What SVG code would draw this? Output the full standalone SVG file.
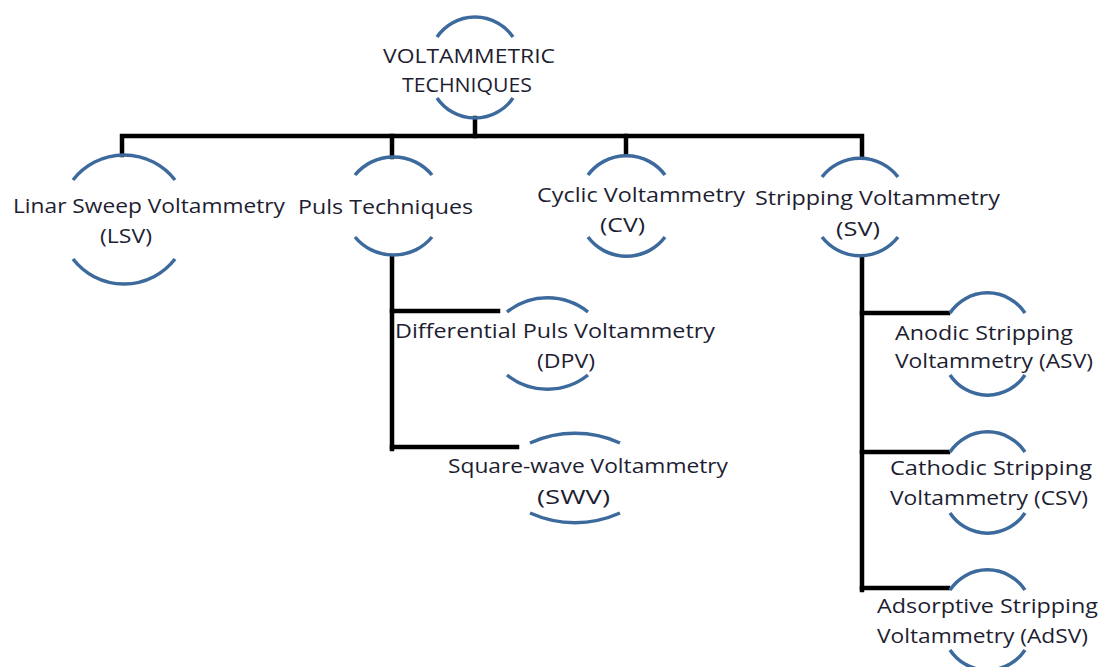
<svg xmlns="http://www.w3.org/2000/svg" width="1102" height="667" viewBox="0 0 1102 667">
<style>
.bg{fill:#ffffff}
.arc{fill:none;stroke:#3d6a9c;stroke-width:3.5;stroke-linecap:butt}
.con{fill:none;stroke:#000000;stroke-width:4.5;stroke-linejoin:miter;stroke-linecap:square}
.t{font-family:"Open Sans","Liberation Sans",sans-serif;font-size:20px;fill:#1e1e32}
</style>
<rect class="bg" x="0" y="0" width="1102" height="667"/>
<g id="connectors">
<path class="con" d="M475 118 V136"/>
<path class="con" d="M122 155 V136 H862 V155"/>
<path class="con" d="M392 136 V157"/>
<path class="con" d="M626 136 V154"/>
<path class="con" d="M392 258 V449"/>
<path class="con" d="M392 311 H498"/>
<path class="con" d="M392 447 H517"/>
<path class="con" d="M862 258 V590"/>
<path class="con" d="M862 313 H948"/>
<path class="con" d="M862 452 H948"/>
<path class="con" d="M862 588 H948"/>
</g>
<g id="node-root">
<path class="arc" d="M437 37 A46 46 0 0 1 513 37"/>
<path class="arc" d="M437 98 A46 46 0 0 0 513 98"/>
<text class="t" x="383" y="63" textLength="172" lengthAdjust="spacingAndGlyphs">VOLTAMMETRIC</text>
<text class="t" x="402" y="92" textLength="130" lengthAdjust="spacingAndGlyphs">TECHNIQUES</text>
</g>
<g id="node-lsv">
<path class="arc" d="M73 180 A64.5 64.5 0 0 1 175 180"/>
<path class="arc" d="M73 259 A64.5 64.5 0 0 0 175 259"/>
<text class="t" x="13" y="213" textLength="272" lengthAdjust="spacingAndGlyphs">Linar Sweep Voltammetry</text>
<text class="t" x="100" y="243" textLength="52" lengthAdjust="spacingAndGlyphs">(LSV)</text>
</g>
<g id="node-puls">
<path class="arc" d="M355 175 A50 50 0 0 1 432 175"/>
<path class="arc" d="M355 237 A50 50 0 0 0 432 237"/>
<text class="t" x="298" y="214" textLength="175" lengthAdjust="spacingAndGlyphs">Puls Techniques</text>
</g>
<g id="node-cv">
<path class="arc" d="M588 175 A48 48 0 0 1 665 175"/>
<path class="arc" d="M588 237 A48 48 0 0 0 665 237"/>
<text class="t" x="537" y="202" textLength="208" lengthAdjust="spacingAndGlyphs">Cyclic Voltammetry</text>
<text class="t" x="600" y="232" textLength="45" lengthAdjust="spacingAndGlyphs">(CV)</text>
</g>
<g id="node-sv">
<path class="arc" d="M822 177 A48 48 0 0 1 898 177"/>
<path class="arc" d="M822 237 A48 48 0 0 0 898 237"/>
<text class="t" x="755" y="205" textLength="245" lengthAdjust="spacingAndGlyphs">Stripping Voltammetry</text>
<text class="t" x="836" y="236" textLength="44" lengthAdjust="spacingAndGlyphs">(SV)</text>
</g>
<g id="node-dpv">
<path class="arc" d="M507 312 A65 65 0 0 1 588 312"/>
<path class="arc" d="M507 375 A65 65 0 0 0 588 375"/>
<text class="t" x="395" y="338" textLength="320" lengthAdjust="spacingAndGlyphs">Differential Puls Voltammetry</text>
<text class="t" x="537" y="368" textLength="58" lengthAdjust="spacingAndGlyphs">(DPV)</text>
</g>
<g id="node-swv">
<path class="arc" d="M530 443 A110 110 0 0 1 620 443"/>
<path class="arc" d="M530 513 A110 110 0 0 0 620 513"/>
<text class="t" x="448" y="473" textLength="280" lengthAdjust="spacingAndGlyphs">Square-wave Voltammetry</text>
<text class="t" x="537" y="504" textLength="73" lengthAdjust="spacingAndGlyphs">(SWV)</text>
</g>
<g id="node-asv">
<path class="arc" d="M950 313 A45 45 0 0 1 1025 313"/>
<path class="arc" d="M950 375 A45 45 0 0 0 1025 375"/>
<text class="t" x="895" y="340" textLength="178" lengthAdjust="spacingAndGlyphs">Anodic Stripping</text>
<text class="t" x="895" y="368" textLength="198" lengthAdjust="spacingAndGlyphs">Voltammetry (ASV)</text>
</g>
<g id="node-csv">
<path class="arc" d="M950 452 A45 45 0 0 1 1025 452"/>
<path class="arc" d="M950 513 A45 45 0 0 0 1025 513"/>
<text class="t" x="890" y="475" textLength="202" lengthAdjust="spacingAndGlyphs">Cathodic Stripping</text>
<text class="t" x="890" y="505" textLength="198" lengthAdjust="spacingAndGlyphs">Voltammetry (CSV)</text>
</g>
<g id="node-adsv">
<path class="arc" d="M950 590 A45 45 0 0 1 1025 590"/>
<path class="arc" d="M950 650 A45 45 0 0 0 1025 650"/>
<text class="t" x="877" y="613" textLength="221" lengthAdjust="spacingAndGlyphs">Adsorptive Stripping</text>
<text class="t" x="877" y="643" textLength="211" lengthAdjust="spacingAndGlyphs">Voltammetry (AdSV)</text>
</g>
</svg>
